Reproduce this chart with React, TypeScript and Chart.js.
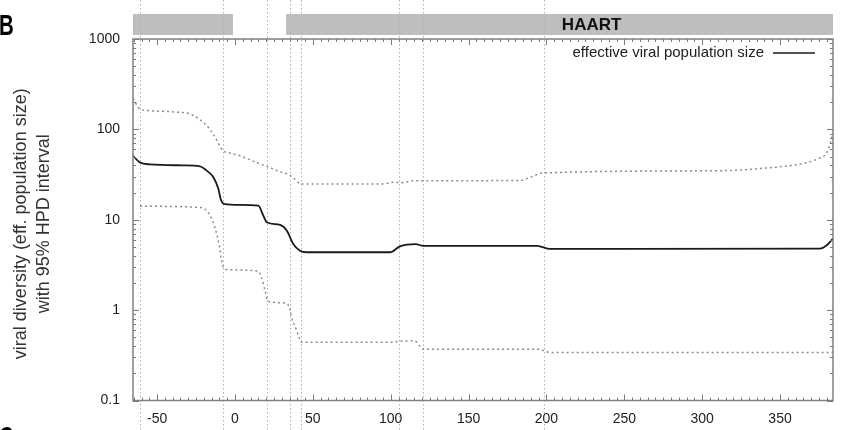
import { useEffect, useRef } from "react";
import { Chart, registerables } from "chart.js";

Chart.register(...registerables);

// ---- data (time in days, effective population size) ----
const mainX = [-65.5, -61, -54.6, -33.2, -22.5, -18.2, -13.9, -10.7, -9.2, -7.1, 3, 15, 18.2, 20.4, 28.9, 33.2, 37.4, 41.7, 46, 99.5, 105.9, 116.2, 120.7, 194, 202.3, 375.7, 379.6, 384];
const mainY = [51, 43, 41, 40, 39, 35, 29.5, 22, 17, 15, 14.6, 14.3, 11.1, 9.4, 8.75, 7.6, 5.4, 4.55, 4.37, 4.37, 5.07, 5.37, 5.15, 5.15, 4.75, 4.8, 5.15, 6.2];

const upperX = [-65.5, -61, -54.6, -37.4, -28.9, -18.2, -12.8, -9.6, -7.9, -5.3, 3.2, 16.1, 20.4, 28.9, 35.3, 38.5, 42.4, 93.1, 102.8, 106, 114.3, 183, 189.5, 197.8, 311.5, 345.5, 362.9, 373.8, 380.2, 382.2, 384];
const upperY = [220, 168, 161, 155, 148, 110, 82, 65, 58, 56, 51, 41.4, 39, 34, 31, 28, 24.8, 24.8, 26, 25.6, 27, 27.2, 29.5, 32.9, 34.9, 38, 41.3, 47, 56, 70, 92];

const lowerX = [-61, -22.5, -18.2, -14, -11.8, -10.1, -9, -7.9, -4.5, 14.8, 17, 19.3, 21.2, 32.1, 34.7, 36.6, 39.2, 41.1, 42.8, 99.5, 104, 112.4, 115.6, 118.8, 120.9, 194.5, 198.5, 202.3, 384];
const lowerY = [14.1, 13.7, 12.6, 9.4, 7, 5.2, 3.85, 3.1, 2.8, 2.7, 2.3, 1.64, 1.25, 1.2, 1.1, 0.8, 0.62, 0.5, 0.44, 0.44, 0.45, 0.457, 0.455, 0.4, 0.37, 0.37, 0.355, 0.34, 0.34];

const xTicks = [-50, 0, 50, 100, 150, 200, 250, 300, 350];
const yTicks = [0.1, 1, 10, 100, 1000];
const X_MIN = -65.5;
const X_MAX = 384;

const eventLines = [-61, -7.7, 20.6, 35, 42.4, 105.3, 121, 198.7];
const periodStart = [-65.5, 32.8];
const periodEnd = [-1.3, 384];
const periodLabel = ["", "HAART"];
const periodLabelX = [0, 229];

const seriesLabel = "effective viral population size";
const yTitle = ["viral diversity (eff. population size)", "with 95% HPD interval"];

const FONT = '"Liberation Sans", Arial, sans-serif';

const decor = {
  id: "decor",
  beforeDatasetsDraw(chart: any) {
    const { ctx, scales } = chart;
    const x = scales.x;
    ctx.save();
    // period bars
    ctx.fillStyle = "#bebebe";
    periodStart.forEach((s, i) => {
      const x0 = x.getPixelForValue(s);
      const x1 = x.getPixelForValue(periodEnd[i]);
      ctx.fillRect(x0, 14, x1 - x0, 21);
    });
    // event lines
    ctx.strokeStyle = "#b0b0b0";
    ctx.lineWidth = 1;
    ctx.setLineDash([1.5, 2.5]);
    eventLines.forEach((v) => {
      const px = Math.round(x.getPixelForValue(v)) + 0.5;
      ctx.beginPath();
      ctx.moveTo(px, 0);
      ctx.lineTo(px, chart.height);
      ctx.stroke();
    });
    ctx.setLineDash([]);
    // period labels
    ctx.fillStyle = "#111";
    ctx.font = `bold 17px ${FONT}`;
    ctx.textAlign = "center";
    ctx.textBaseline = "middle";
    periodLabel.forEach((t, i) => {
      if (!t) return;
      ctx.fillText(t, x.getPixelForValue(periodLabelX[i]), 25.5);
    });
    ctx.restore();
  },
  afterDatasetsDraw(chart: any) {
    const { ctx, chartArea: a, scales } = chart;
    const x = scales.x;
    const y = scales.y;
    ctx.save();
    ctx.strokeStyle = "#7a7a7a";
    ctx.lineWidth = 1;
    // x ticks
    const majorX = new Set(xTicks);
    for (let v = Math.ceil(X_MIN / 5) * 5; v <= X_MAX; v += 5) {
      const px = Math.round(x.getPixelForValue(v)) + 0.5;
      const len = majorX.has(v) ? 6 : 3;
      ctx.beginPath();
      ctx.moveTo(px, a.bottom);
      ctx.lineTo(px, a.bottom - len);
      ctx.moveTo(px, a.top);
      ctx.lineTo(px, a.top + len);
      ctx.stroke();
    }
    // y ticks (log)
    for (let d = 0; d < yTicks.length; d++) {
      const base = yTicks[d];
      for (let m = 1; m <= 9; m++) {
        const v = base * m;
        if (v > 1000.0001) break;
        const py = Math.round(y.getPixelForValue(v)) + 0.5;
        const len = m === 1 ? 6 : 3;
        ctx.beginPath();
        ctx.moveTo(a.left, py);
        ctx.lineTo(a.left + len, py);
        ctx.moveTo(a.right, py);
        ctx.lineTo(a.right - len, py);
        ctx.stroke();
      }
    }
    // box
    ctx.strokeStyle = "#808080";
    ctx.lineWidth = 1.5;
    ctx.strokeRect(a.left, a.top, a.right - a.left, a.bottom - a.top);

    // legend
    ctx.fillStyle = "#222";
    ctx.font = `15px ${FONT}`;
    ctx.textAlign = "right";
    ctx.textBaseline = "middle";
    ctx.fillText(seriesLabel, a.right - 69, a.top + 14);
    ctx.strokeStyle = "#1a1a1a";
    ctx.lineWidth = 1.5;
    ctx.beginPath();
    ctx.moveTo(a.right - 60, a.top + 14);
    ctx.lineTo(a.right - 18, a.top + 14);
    ctx.stroke();

    // y title
    ctx.fillStyle = "#333";
    ctx.font = `18px ${FONT}`;
    ctx.textAlign = "center";
    ctx.textBaseline = "middle";
    const cy = (a.top + a.bottom) / 2 + 4;
    [21, 44].forEach((cx, i) => {
      ctx.save();
      ctx.translate(cx, cy);
      ctx.rotate(-Math.PI / 2);
      ctx.fillText(yTitle[i], 0, 0);
      ctx.restore();
    });

    // panel letters
    ctx.fillStyle = "#000";
    ctx.font = `bold 30px ${FONT}`;
    ctx.textAlign = "left";
    ctx.textBaseline = "alphabetic";
    ctx.save();
    ctx.translate(-1, 0);
    ctx.scale(0.68, 1);
    ctx.fillText("B", 0, 35);
    ctx.fillText("C", 0, 447);
    ctx.restore();
    ctx.restore();
  },
};

export default function App() {
  const ref = useRef<HTMLCanvasElement | null>(null);
  useEffect(() => {
    if (!ref.current) return;
    const chart = new Chart(ref.current, {
      type: "line",
      data: {
        datasets: [
          {
            label: "upper",
            data: upperX.map((v, i) => ({ x: v, y: upperY[i] })),
            borderColor: "#8c8c8c",
            borderWidth: 1.5,
            borderDash: [2, 3],
            pointRadius: 0,
            cubicInterpolationMode: "monotone",
          },
          {
            label: "lower",
            data: lowerX.map((v, i) => ({ x: v, y: lowerY[i] })),
            borderColor: "#8c8c8c",
            borderWidth: 1.5,
            borderDash: [2, 3],
            pointRadius: 0,
            cubicInterpolationMode: "monotone",
          },
          {
            label: seriesLabel,
            data: mainX.map((v, i) => ({ x: v, y: mainY[i] })),
            borderColor: "#1a1a1a",
            borderWidth: 1.8,
            pointRadius: 0,
            cubicInterpolationMode: "monotone",
          },
        ],
      },
      options: {
        animation: false,
        responsive: false,
        maintainAspectRatio: false,
        layout: { padding: { top: 39, right: 8, left: 0, bottom: 0 } },
        plugins: { legend: { display: false }, tooltip: { enabled: false } },
        scales: {
          x: {
            type: "linear",
            min: X_MIN,
            max: X_MAX,
            grid: { display: false, drawTicks: false },
            border: { display: false },
            afterBuildTicks: (s: any) => {
              s.ticks = xTicks.map((v) => ({ value: v }));
            },
            afterFit: (s: any) => {
              s.height = 29.5;
            },
            ticks: {
              autoSkip: false,
              maxRotation: 0,
              padding: 10,
              color: "#222",
              font: { family: FONT, size: 14 },
              callback: (v: any) => String(v),
            },
          },
          y: {
            type: "logarithmic",
            min: 0.1,
            max: 1000,
            grid: { display: false, drawTicks: false },
            border: { display: false },
            afterBuildTicks: (s: any) => {
              s.ticks = yTicks.map((v) => ({ value: v }));
            },
            afterFit: (s: any) => {
              s.width = 133;
            },
            ticks: {
              autoSkip: false,
              padding: 13,
              color: "#222",
              font: { family: FONT, size: 14 },
              callback: (v: any) => String(v),
            },
          },
        },
      },
      plugins: [decor],
    });
    return () => chart.destroy();
  }, []);
  return (
    <div style={{ position: "absolute", left: 0, top: 0, width: 841, height: 430, background: "#fff" }}>
      <canvas ref={ref} width={841} height={430} style={{ display: "block" }} />
    </div>
  );
}
